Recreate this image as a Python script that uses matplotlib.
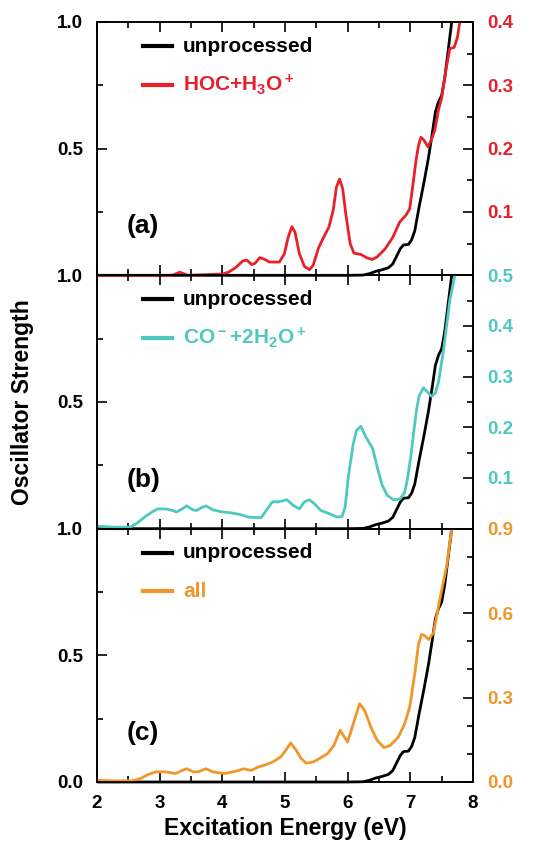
import matplotlib
matplotlib.use("Agg")
import matplotlib.pyplot as plt
from matplotlib.ticker import FixedLocator, FuncFormatter, MultipleLocator
from matplotlib.patches import Rectangle

plt.rcParams['font.family'] = ['Liberation Sans', 'DejaVu Sans']
plt.rcParams['font.weight'] = 'bold'
plt.rcParams['axes.labelweight'] = 'bold'
plt.rcParams['mathtext.fontset'] = 'custom'
plt.rcParams['mathtext.rm'] = 'Liberation Sans:bold'
plt.rcParams['mathtext.default'] = 'rm'

# ---- data ----
E_un = [2.0, 6.0, 6.25, 6.35, 6.45, 6.55, 6.65, 6.72, 6.78, 6.84, 6.89, 6.97, 7.02, 7.07,
        7.14, 7.22, 7.29, 7.35, 7.40, 7.45, 7.50, 7.55, 7.59, 7.63, 7.66, 7.70]
f_un = [0.0, 0.0, 0.001, 0.007, 0.016, 0.022, 0.030, 0.045, 0.075, 0.105, 0.120, 0.122, 0.140, 0.175,
        0.27, 0.37, 0.465, 0.56, 0.645, 0.685, 0.71, 0.78, 0.86, 0.94, 1.0, 1.08]

E_a = [2.0, 3.20, 3.32, 3.45, 4.0, 4.10, 4.21, 4.33, 4.39, 4.47, 4.52, 4.60, 4.68, 4.75,
       4.91, 4.99, 5.05, 5.11, 5.16, 5.23, 5.31, 5.39, 5.45, 5.53, 5.61, 5.70, 5.77, 5.82,
       5.87, 5.92, 5.97, 6.04, 6.10, 6.21, 6.30, 6.39, 6.47, 6.60, 6.72, 6.83, 6.93, 6.99,
       7.04, 7.09, 7.13, 7.17, 7.22, 7.28, 7.34, 7.39, 7.45, 7.50, 7.56, 7.63, 7.70, 7.75,
       7.79, 7.82]
f_a = [0.0, 0.0, 0.005, 0.0, 0.002, 0.005, 0.012, 0.023, 0.024, 0.017, 0.019, 0.028, 0.025, 0.021,
       0.021, 0.034, 0.060, 0.077, 0.068, 0.034, 0.014, 0.009, 0.016, 0.042, 0.059, 0.076, 0.103, 0.139,
       0.152, 0.137, 0.097, 0.050, 0.035, 0.033, 0.028, 0.025, 0.029, 0.042, 0.060, 0.084, 0.095, 0.105,
       0.142, 0.181, 0.205, 0.218, 0.213, 0.203, 0.215, 0.229, 0.262, 0.280, 0.320, 0.358, 0.360, 0.375,
       0.400, 0.430]

E_b = [2.0, 2.25, 2.53, 2.63, 2.76, 2.89, 2.97, 3.10, 3.20, 3.27, 3.36, 3.43, 3.53, 3.59,
       3.66, 3.74, 3.85, 4.00, 4.15, 4.28, 4.41, 4.52, 4.62, 4.70, 4.80, 4.90, 5.03, 5.13,
       5.23, 5.31, 5.39, 5.47, 5.57, 5.70, 5.83, 5.91, 5.96, 6.01, 6.09, 6.14, 6.21, 6.29,
       6.40, 6.47, 6.55, 6.63, 6.73, 6.84, 6.91, 6.96, 7.02, 7.07, 7.10, 7.14, 7.21, 7.27,
       7.34, 7.40, 7.45, 7.53, 7.63, 7.71, 7.75]
f_b = [0.005, 0.003, 0.003, 0.010, 0.023, 0.034, 0.039, 0.039, 0.036, 0.033, 0.039, 0.045, 0.037, 0.036,
       0.041, 0.045, 0.037, 0.033, 0.031, 0.028, 0.023, 0.022, 0.022, 0.036, 0.053, 0.053, 0.057, 0.046,
       0.039, 0.053, 0.057, 0.049, 0.036, 0.030, 0.023, 0.024, 0.043, 0.102, 0.168, 0.194, 0.202, 0.181,
       0.158, 0.122, 0.086, 0.066, 0.057, 0.059, 0.072, 0.102, 0.155, 0.207, 0.235, 0.262, 0.278, 0.270,
       0.261, 0.268, 0.290, 0.353, 0.451, 0.500, 0.530]

E_c = [2.0, 2.25, 2.56, 2.69, 2.81, 2.94, 3.10, 3.25, 3.36, 3.43, 3.54, 3.61, 3.74, 3.85,
       4.03, 4.21, 4.34, 4.46, 4.57, 4.70, 4.82, 4.93, 5.01, 5.09, 5.18, 5.26, 5.34, 5.45,
       5.57, 5.68, 5.78, 5.88, 5.93, 6.00, 6.09, 6.19, 6.27, 6.37, 6.47, 6.58, 6.68, 6.81,
       6.91, 6.99, 7.04, 7.08, 7.13, 7.18, 7.23, 7.29, 7.37, 7.47, 7.58, 7.66, 7.70]
f_c = [0.006, 0.004, 0.004, 0.012, 0.026, 0.036, 0.036, 0.030, 0.041, 0.047, 0.036, 0.036, 0.047, 0.036,
       0.030, 0.038, 0.047, 0.041, 0.053, 0.062, 0.073, 0.089, 0.112, 0.139, 0.112, 0.083, 0.067, 0.071,
       0.086, 0.101, 0.130, 0.184, 0.166, 0.142, 0.207, 0.278, 0.255, 0.195, 0.148, 0.122, 0.130, 0.160,
       0.207, 0.266, 0.340, 0.400, 0.490, 0.524, 0.520, 0.506, 0.530, 0.649, 0.767, 0.900, 0.950]

labels_series = ["HOC+H$_3$O$^+$", "CO$^-$+2H$_2$O$^+$", "all"]
colors = ['#e8202a', '#4ec9c0', '#f0962a']
panel_tags = ['(a)', '(b)', '(c)']
right_lims = [0.4, 0.5, 0.9]
right_major = [[0.1, 0.2, 0.3, 0.4], [0.1, 0.2, 0.3, 0.4, 0.5], [0.0, 0.3, 0.6, 0.9]]
right_minor = [0.05, 0.05, 0.1]
series = [(E_a, f_a), (E_b, f_b), (E_c, f_c)]

fig = plt.figure(figsize=(5.35, 8.44), dpi=100)
left, width = 97 / 535, (473 - 97) / 535
bottom0 = 1 - 782 / 844
h = (782 - 22) / 3 / 844

TS = 13.5
for i in range(3):
    b = bottom0 + (2 - i) * h
    ax = fig.add_axes([left, b, width, h])
    ax.set_facecolor('none')
    ax2 = ax.twinx()
    ax2.set_facecolor('none')
    col = colors[i]

    ln1, = ax.plot(E_un, f_un, color='black', lw=2.0, solid_joinstyle='round')
    ln1.set_clip_path(Rectangle((0, -0.03), 1, 1.03, transform=ax.transAxes))
    Ex, fx = series[i]
    ln2, = ax2.plot(Ex, fx, color=col, lw=2.0, solid_joinstyle='round')
    ln2.set_clip_path(Rectangle((0, -0.03), 1, 1.03, transform=ax2.transAxes))

    ax.set_xlim(2, 8)
    ax.set_ylim(0, 1)
    ax2.set_ylim(0, right_lims[i])

    ax.xaxis.set_major_locator(MultipleLocator(1))
    ax.xaxis.set_minor_locator(MultipleLocator(0.5))
    ax.yaxis.set_major_locator(FixedLocator([0.0, 0.5, 1.0]))
    ax.yaxis.set_minor_locator(FixedLocator([0.25, 0.75]))
    if i < 2:
        ax.yaxis.set_major_formatter(FuncFormatter(lambda v, p: '' if v == 0 else f'{v:.1f}'))
        ax.tick_params(axis='x', labelbottom=False)
    else:
        ax.yaxis.set_major_formatter(FuncFormatter(lambda v, p: f'{v:.1f}'))
    ax.tick_params(axis='both', which='both', direction='in', top=True, right=False,
                   width=1.2, labelsize=TS)
    ax.tick_params(which='major', length=7)
    ax.tick_params(which='minor', length=4)
    ax.tick_params(axis='y', pad=10)
    ax.tick_params(axis='x', pad=9)

    ax2.yaxis.set_major_locator(FixedLocator(right_major[i]))
    ax2.yaxis.set_minor_locator(MultipleLocator(right_minor[i]))
    ax2.yaxis.set_major_formatter(FuncFormatter(lambda v, p: f'{v:.1f}'))
    ax2.tick_params(axis='y', which='both', direction='in', width=1.2, labelsize=TS,
                    labelcolor=col, pad=10)
    ax2.tick_params(which='major', length=7)
    ax2.tick_params(which='minor', length=4)

    for a in (ax, ax2):
        for s in a.spines.values():
            s.set_linewidth(1.2)

    # legend
    ax.plot([0.122, 0.2], [0.905, 0.905], transform=ax.transAxes, color='black', lw=3)
    ax.text(0.229, 0.905, 'unprocessed', transform=ax.transAxes, va='center', ha='left',
            fontsize=15, color='black')
    ax.plot([0.122, 0.2], [0.752, 0.752], transform=ax.transAxes, color=col, lw=3)
    ax.text(0.229, 0.752, labels_series[i], transform=ax.transAxes, va='center', ha='left',
            fontsize=15, color=col)
    ax.text(0.08, 0.194, panel_tags[i], transform=ax.transAxes, va='center', ha='left',
            fontsize=19, color='black')
    if i == 2:
        ax.set_xlabel('Excitation Energy (eV)', fontsize=16.5, fontweight='bold', labelpad=4)

fig.text(0.042, (1 - 402 / 844), 'Oscillator Strength', rotation=90, va='center', ha='center',
         fontsize=16.5, fontweight='bold')

fig.savefig('out.png', dpi=100)
